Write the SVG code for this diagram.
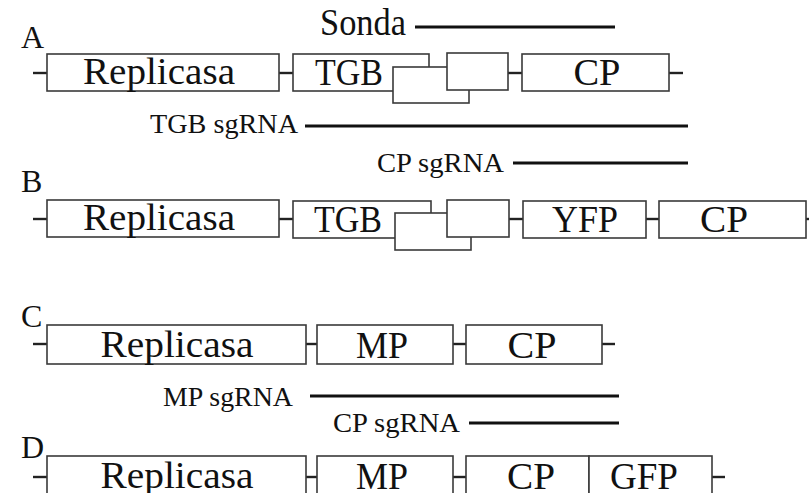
<svg xmlns="http://www.w3.org/2000/svg" width="809" height="493" viewBox="0 0 809 493">
<style>
.box{fill:#fff;stroke:#3a3a3a;stroke-width:1.6}
.t{font-family:"Liberation Serif","Times New Roman",serif;font-size:37px;fill:#111;text-anchor:middle}
.s{font-family:"Liberation Serif","Times New Roman",serif;font-size:28px;fill:#111}
.lbl{font-family:"Liberation Serif","Times New Roman",serif;font-size:32px;fill:#111}
.tick{stroke:#222;stroke-width:2.4;fill:none}
.rna{stroke:#111;stroke-width:3;fill:none}
</style>
<rect width="809" height="493" fill="#fff"/>
<!-- panel labels -->
<text class="lbl" x="21" y="48">A</text>
<text class="lbl" x="21" y="192">B</text>
<text class="lbl" x="21" y="327">C</text>
<text class="lbl" x="21" y="458">D</text>

<g id="connectors">
  <!-- row A ticks -->
  <line class="tick" x1="33" y1="73" x2="47" y2="73"/>
  <line class="tick" x1="279" y1="73" x2="293" y2="73"/>
  <line class="tick" x1="508" y1="73" x2="522" y2="73"/>
  <line class="tick" x1="669" y1="73" x2="683" y2="73"/>
  <!-- row B ticks -->
  <line class="tick" x1="33" y1="219" x2="47" y2="219"/>
  <line class="tick" x1="279" y1="219" x2="293" y2="219"/>
  <line class="tick" x1="509" y1="219" x2="523" y2="219"/>
  <line class="tick" x1="646" y1="219" x2="659" y2="219"/>
  <line class="tick" x1="806" y1="219" x2="810" y2="219"/>
  <!-- row C ticks -->
  <line class="tick" x1="33" y1="344" x2="47" y2="344"/>
  <line class="tick" x1="306" y1="344" x2="317" y2="344"/>
  <line class="tick" x1="453" y1="344" x2="466" y2="344"/>
  <line class="tick" x1="602" y1="344" x2="615" y2="344"/>
  <!-- row D ticks -->
  <line class="tick" x1="33" y1="477" x2="47" y2="477"/>
  <line class="tick" x1="306" y1="477" x2="317" y2="477"/>
  <line class="tick" x1="453" y1="477" x2="466" y2="477"/>
  <line class="tick" x1="712" y1="477" x2="725" y2="477"/>
  <!-- probe and sgRNA lines -->
  <line class="rna" x1="415" y1="27" x2="615" y2="27"/>
  <line class="rna" x1="305" y1="126" x2="688" y2="126"/>
  <line class="rna" x1="513" y1="163" x2="688" y2="163"/>
  <line class="rna" x1="310" y1="396" x2="619" y2="396"/>
  <line class="rna" x1="469" y1="423" x2="619" y2="423"/>
</g>

<g id="sonda"><text class="t" x="320" y="35" style="text-anchor:start" textLength="86" lengthAdjust="spacingAndGlyphs">Sonda</text></g>
<g id="tgb-sgrna"><text class="s" x="150" y="133" textLength="148" lengthAdjust="spacingAndGlyphs">TGB sgRNA</text></g>
<g id="cp-sgrna-b"><text class="s" x="377" y="172" textLength="127" lengthAdjust="spacingAndGlyphs">CP sgRNA</text></g>
<g id="mp-sgrna"><text class="s" x="163" y="406" textLength="130" lengthAdjust="spacingAndGlyphs">MP sgRNA</text></g>
<g id="cp-sgrna-d"><text class="s" x="333" y="432" textLength="127" lengthAdjust="spacingAndGlyphs">CP sgRNA</text></g>

<!-- Row A -->
<g id="a-replicasa"><rect class="box" x="47" y="54" width="232" height="37"/><text class="t" x="159" y="84" textLength="152" lengthAdjust="spacingAndGlyphs">Replicasa</text></g>
<g id="a-tgb"><rect class="box" x="293" y="54" width="136" height="37"/><text class="t" x="349" y="85" textLength="68" lengthAdjust="spacingAndGlyphs">TGB</text></g>
<g id="a-tgb2"><rect class="box" x="393" y="67" width="76" height="36"/></g>
<g id="a-tgb3"><rect class="box" x="447" y="53" width="61" height="37"/></g>
<g id="a-cp"><rect class="box" x="522" y="54" width="147" height="37"/><text class="t" x="597" y="85" textLength="47" lengthAdjust="spacingAndGlyphs">CP</text></g>

<!-- Row B -->
<g id="b-replicasa"><rect class="box" x="47" y="200" width="232" height="37"/><text class="t" x="159" y="230" textLength="152" lengthAdjust="spacingAndGlyphs">Replicasa</text></g>
<g id="b-tgb"><rect class="box" x="293" y="201" width="138" height="37"/><text class="t" x="348" y="232" textLength="68" lengthAdjust="spacingAndGlyphs">TGB</text></g>
<g id="b-tgb2"><rect class="box" x="395" y="213" width="76" height="37"/></g>
<g id="b-tgb3"><rect class="box" x="447" y="200" width="62" height="37"/></g>
<g id="b-yfp"><rect class="box" x="523" y="201" width="123" height="37"/><text class="t" x="585" y="232" textLength="66" lengthAdjust="spacingAndGlyphs">YFP</text></g>
<g id="b-cp"><rect class="box" x="659" y="201" width="147" height="37"/><text class="t" x="724" y="232" textLength="48" lengthAdjust="spacingAndGlyphs">CP</text></g>

<!-- Row C -->
<g id="c-replicasa"><rect class="box" x="47" y="325" width="259" height="39"/><text class="t" x="177" y="357" textLength="153" lengthAdjust="spacingAndGlyphs">Replicasa</text></g>
<g id="c-mp"><rect class="box" x="317" y="325" width="136" height="39"/><text class="t" x="382" y="358" textLength="52" lengthAdjust="spacingAndGlyphs">MP</text></g>
<g id="c-cp"><rect class="box" x="466" y="325" width="136" height="39"/><text class="t" x="532" y="358" textLength="49" lengthAdjust="spacingAndGlyphs">CP</text></g>

<!-- Row D -->
<g id="d-replicasa"><rect class="box" x="47" y="456" width="259" height="50"/><text class="t" x="177" y="488" textLength="153" lengthAdjust="spacingAndGlyphs">Replicasa</text></g>
<g id="d-mp"><rect class="box" x="317" y="456" width="136" height="50"/><text class="t" x="382" y="489" textLength="52" lengthAdjust="spacingAndGlyphs">MP</text></g>
<g id="d-cp"><rect class="box" x="466" y="456" width="123" height="50"/><text class="t" x="531" y="489" textLength="48" lengthAdjust="spacingAndGlyphs">CP</text></g>
<g id="d-gfp"><rect class="box" x="589" y="456" width="123" height="50"/><text class="t" x="644" y="489" textLength="68" lengthAdjust="spacingAndGlyphs">GFP</text></g>
</svg>
